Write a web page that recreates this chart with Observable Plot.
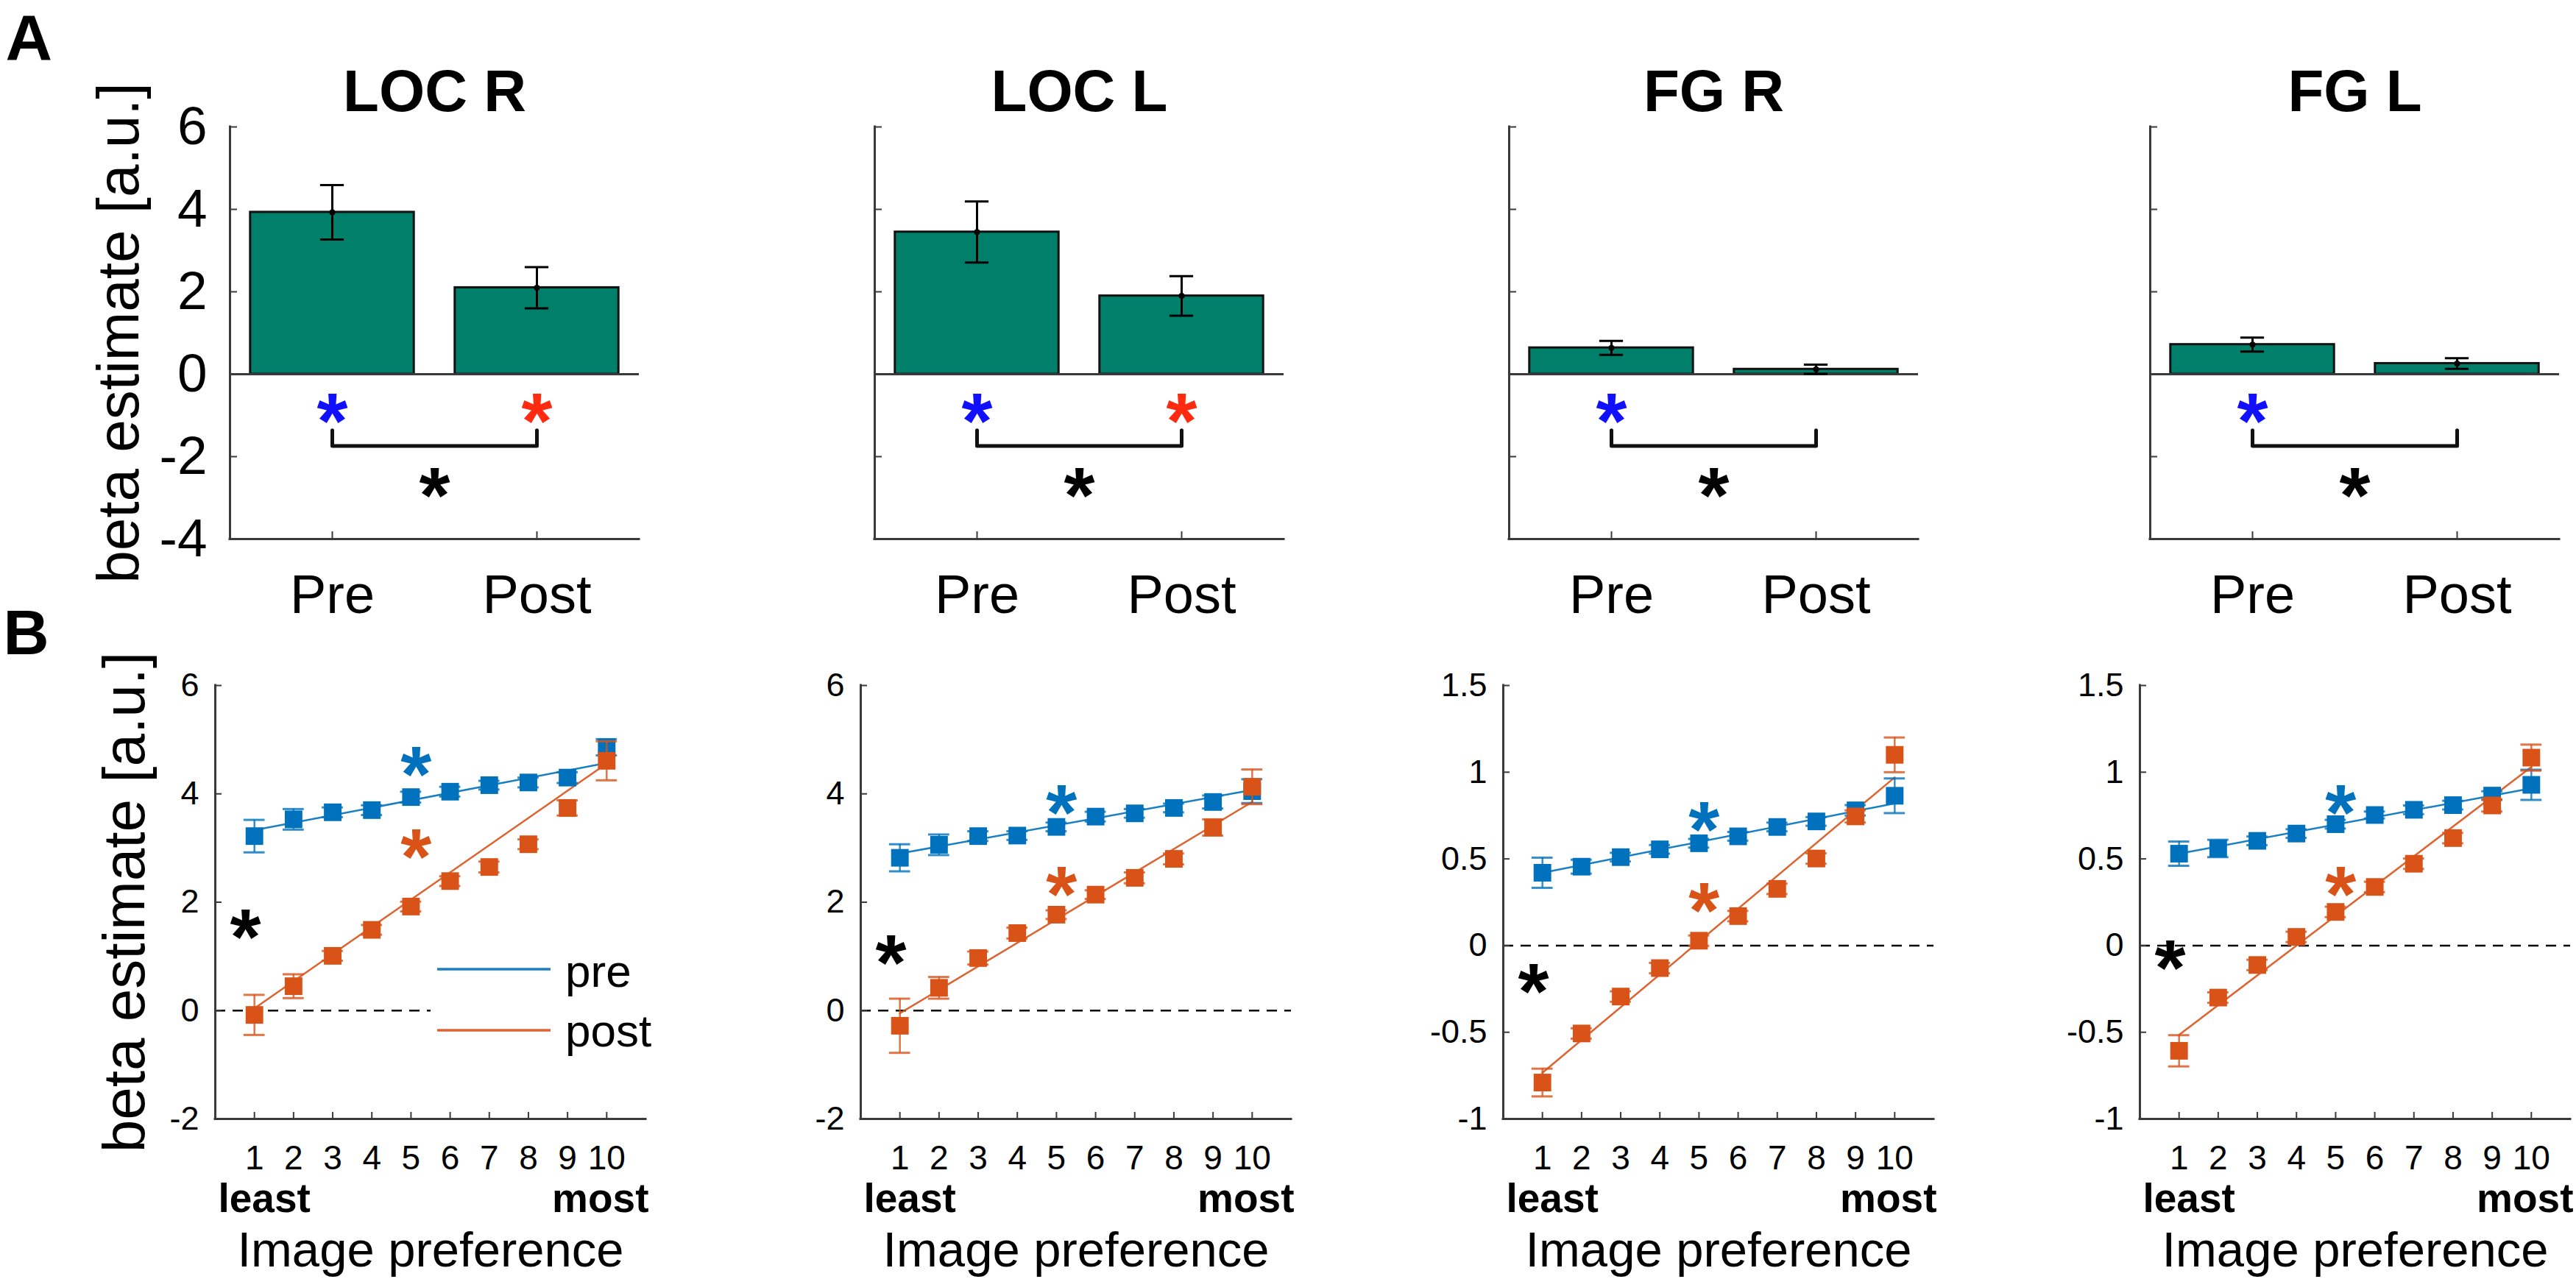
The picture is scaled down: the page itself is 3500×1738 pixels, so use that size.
<!DOCTYPE html>
<html><head><meta charset="utf-8">
<script src="https://cdn.jsdelivr.net/npm/d3@7"></script>
<script src="https://cdn.jsdelivr.net/npm/@observablehq/plot@0.6"></script>
<style>
html,body{margin:0;padding:0;background:#fff;}
#fig{position:relative;width:3500px;height:1738px;overflow:hidden;background:#fff;font-family:"Liberation Sans",Arial,Helvetica,sans-serif;}
.cell{position:absolute;}
.cell svg{display:block;overflow:visible;}
</style></head><body><div id="fig"></div>
<script>
// ---------------- data ----------------
const regions = ["LOC R", "LOC L", "FG R", "FG L"];
const conditions = ["Pre", "Post"];
// panel A: mean beta estimate (bars) and SE
const barPre    = [3.93, 3.45, 0.64, 0.72];
const barPreSE  = [0.66, 0.74, 0.17, 0.17];
const barPost   = [2.10, 1.90, 0.12, 0.26];
const barPostSE = [0.50, 0.48, 0.11, 0.13];
const preSig  = [true, true, true, true];
const postSig = [true, true, false, false];
const withinStarY = -0.68;
const bracketY = [-1.36, -1.74];
const betweenStarY = -2.48;
const topYTicks = [-4, -2, 0, 2, 4, 6];

// panel B: beta per image preference level
const prefLevels = [1, 2, 3, 4, 5, 6, 7, 8, 9, 10];
const preMean = [
  [3.22, 3.53, 3.66, 3.70, 3.94, 4.04, 4.16, 4.21, 4.30, 4.86],
  [2.82, 3.06, 3.22, 3.23, 3.39, 3.58, 3.64, 3.74, 3.85, 4.05],
  [0.42, 0.455, 0.51, 0.555, 0.59, 0.63, 0.684, 0.716, 0.78, 0.864],
  [0.53, 0.56, 0.604, 0.646, 0.70, 0.753, 0.783, 0.81, 0.865, 0.927]
];
const preSE = [
  [0.30, 0.19, 0.09, 0.09, 0.10, 0.09, 0.08, 0.09, 0.10, 0.15],
  [0.25, 0.19, 0.09, 0.08, 0.08, 0.09, 0.08, 0.08, 0.12, 0.22],
  [0.087, 0.04, 0.025, 0.025, 0.025, 0.025, 0.025, 0.025, 0.03, 0.10],
  [0.07, 0.05, 0.025, 0.025, 0.025, 0.02, 0.025, 0.025, 0.025, 0.087]
];
const postMean = [
  [-0.08, 0.45, 1.01, 1.49, 1.92, 2.39, 2.65, 3.07, 3.74, 4.61],
  [-0.28, 0.42, 0.97, 1.43, 1.77, 2.14, 2.45, 2.80, 3.38, 4.13],
  [-0.79, -0.507, -0.294, -0.13, 0.028, 0.17, 0.327, 0.502, 0.745, 1.10],
  [-0.607, -0.30, -0.112, 0.05, 0.194, 0.338, 0.472, 0.62, 0.808, 1.084]
];
const postSE = [
  [0.37, 0.22, 0.09, 0.09, 0.09, 0.09, 0.10, 0.09, 0.14, 0.36],
  [0.50, 0.20, 0.12, 0.10, 0.08, 0.08, 0.10, 0.10, 0.15, 0.32],
  [0.08, 0.03, 0.03, 0.03, 0.03, 0.03, 0.03, 0.03, 0.035, 0.10],
  [0.09, 0.03, 0.03, 0.03, 0.03, 0.03, 0.03, 0.03, 0.035, 0.075]
];
// fitted lines (value at level 1 and at level 10)
const fitPre  = [[3.33, 4.57], [2.90, 4.07], [0.42, 0.82], [0.53, 0.907]];
const fitPost = [[0.04, 4.56], [-0.05, 3.85], [-0.734, 0.97], [-0.515, 1.03]];
const fitLevels = [1, 10];
const bottomYDomain = [[-2, 6], [-2, 6], [-1, 1.5], [-1, 1.5]];
const bottomYTicks = [[-2, 0, 2, 4, 6], [-2, 0, 2, 4, 6], [-1, -0.5, 0, 0.5, 1, 1.5], [-1, -0.5, 0, 0.5, 1, 1.5]];
const groupStarX = 0.77, slopeStarX = 5.13;
const groupStarY = [1.71, 1.23, -0.156, -0.018];
const preSlopeStarY = [4.71, 4.01, 0.78, 0.877];
const postSlopeStarY = [3.19, 2.50, 0.31, 0.405];
const seriesNames = ["pre", "post"];

// ---------------- styles / layout ----------------
const FONT = '"Liberation Sans", Arial, Helvetica, sans-serif';
const AX = "#3a3a3a";
const barFill = "#00806a";
const cPre = "#0072BD", cPost = "#D95319";
const sigBlue = "#1010ff", sigRed = "#ff2a10";
const colLeft = [0, 1000, 1880, 2750];
const colRight = [1000, 1880, 2750, 3500];
const topAxisLeft = [312, 1188, 2050, 2921], topAxisW = 556;
const topFrameTop = 172, topFrameBottom = 732, topH = 852;
const botAxisLeft = [292, 1169, 2042, 2907], botAxisW = 585;
const botFrameTop = 931, botFrameBottom = 1520, botH = 886;
const barHalf = 0.4, capTop = 0.058, capBot = 0.27;
const starFS = 108, starDy = 28;

const fig = document.getElementById("fig");
function place(svg, left, top) {
  const d = document.createElement("div");
  d.className = "cell";
  d.style.left = left + "px"; d.style.top = top + "px";
  d.appendChild(svg);
  fig.appendChild(d);
}

function topPanel(i) {
  const width = colRight[i] - colLeft[i];
  const mL = topAxisLeft[i] - colLeft[i];
  const mR = width - mL - topAxisW;
  const bars = conditions.map((c, j) => ({
    pos: j + 1,
    mean: [barPre, barPost][j][i],
    se: [barPreSE, barPostSE][j][i]
  }));
  const blueStars = preSig[i] ? [{pos: 1, y: withinStarY}] : [];
  const redStars = postSig[i] ? [{pos: 2, y: withinStarY}] : [];
  const bracket = [
    {pos: 1, y: bracketY[0]}, {pos: 1, y: bracketY[1]},
    {pos: 2, y: bracketY[1]}, {pos: 2, y: bracketY[0]}
  ];
  const marks = [
    Plot.rect(bars, {x1: d => d.pos - barHalf, x2: d => d.pos + barHalf, y1: 0, y2: "mean",
      fill: barFill, stroke: "#111", strokeWidth: 3}),
    Plot.ruleY([0], {stroke: AX, strokeWidth: 3}),
    Plot.ruleX(bars, {x: "pos", y1: d => d.mean - d.se, y2: d => d.mean + d.se, stroke: "#000", strokeWidth: 3}),
    Plot.ruleY(bars, {y: d => d.mean + d.se, x1: d => d.pos - capTop, x2: d => d.pos + capTop, stroke: "#000", strokeWidth: 3}),
    Plot.ruleY(bars, {y: d => d.mean - d.se, x1: d => d.pos - capTop, x2: d => d.pos + capTop, stroke: "#000", strokeWidth: 3}),
    Plot.dot(bars, {x: "pos", y: "mean", r: 4, fill: "#000"}),
    Plot.line(bracket, {x: "pos", y: "y", stroke: "#111", strokeWidth: 5}),
    Plot.text(blueStars, {x: "pos", y: "y", text: () => "*", fill: sigBlue, fontSize: starFS, fontWeight: "bold", dy: starDy}),
    Plot.text(redStars, {x: "pos", y: "y", text: () => "*", fill: sigRed, fontSize: starFS, fontWeight: "bold", dy: starDy}),
    Plot.text([betweenStarY], {y: d => d, text: () => "*", fill: "#000", fontSize: starFS, fontWeight: "bold", dy: starDy}),
    Plot.ruleX([0.5], {stroke: AX, strokeWidth: 3, strokeLinecap: "square"}),
    Plot.ruleY([topYTicks[0]], {stroke: AX, strokeWidth: 3, strokeLinecap: "square"}),
    Plot.axisX([1, 2], {tickSize: -10, tickPadding: 58, tickFormat: d => conditions[d - 1],
      fontSize: 74, stroke: AX, strokeWidth: 2, label: null}),
    Plot.axisY(topYTicks, {tickSize: -10, tickPadding: 41, tickFormat: i === 0 ? (d => String(d)) : (() => ""),
      fontSize: 73, stroke: AX, strokeWidth: 2, label: null}),
    Plot.text([regions[i]], {frameAnchor: "top", dy: -(topFrameTop - 150), lineAnchor: "bottom",
      fontSize: 80, fontWeight: "bold", fill: "#000"})
  ];
  if (i === 0) {
    marks.push(Plot.text(["beta estimate [a.u.]"], {frameAnchor: "left", rotate: -90, dx: -125,
      lineAnchor: "bottom", textAnchor: "middle", fontSize: 80, fill: "#000"}));
    marks.push(Plot.text(["A"], {frameAnchor: "top-left", dx: 7 - topAxisLeft[0], dy: 80 - topFrameTop,
      lineAnchor: "bottom", textAnchor: "start", fontSize: 88, fontWeight: "bold", fill: "#000"}));
  }
  const svg = Plot.plot({
    width, height: topH,
    marginLeft: mL, marginRight: mR, marginTop: topFrameTop, marginBottom: topH - topFrameBottom,
    style: {background: "transparent", fontFamily: FONT, color: "#000", overflow: "visible"},
    x: {domain: [0.5, 2.5], label: null},
    y: {domain: [topYTicks[0], topYTicks[topYTicks.length - 1]], label: null},
    marks
  });
  place(svg, colLeft[i], 0);
}

function bottomPanel(i) {
  const width = colRight[i] - colLeft[i];
  const mL = botAxisLeft[i] - colLeft[i];
  const mR = width - mL - botAxisW;
  const mT = botFrameTop - topH;
  const mB = 1738 - botFrameBottom;
  const pre = prefLevels.map((x, k) => ({x, mean: preMean[i][k], se: preSE[i][k]}));
  const post = prefLevels.map((x, k) => ({x, mean: postMean[i][k], se: postSE[i][k]}));
  const fp = fitLevels.map((x, k) => ({x, y: fitPre[i][k]}));
  const fq = fitLevels.map((x, k) => ({x, y: fitPost[i][k]}));
  const series = (rows, color) => [
    Plot.ruleX(rows, {x: "x", y1: d => d.mean - d.se, y2: d => d.mean + d.se, stroke: color, strokeWidth: 2.5, strokeOpacity: 0.8}),
    Plot.ruleY(rows, {y: d => d.mean + d.se, x1: d => d.x - capBot, x2: d => d.x + capBot, stroke: color, strokeWidth: 3, strokeOpacity: 0.8}),
    Plot.ruleY(rows, {y: d => d.mean - d.se, x1: d => d.x - capBot, x2: d => d.x + capBot, stroke: color, strokeWidth: 3, strokeOpacity: 0.8}),
    Plot.dot(rows, {x: "x", y: "mean", symbol: "square", r: 13.5, fill: color, stroke: "none"})
  ];
  const yd = bottomYDomain[i];
  const marks = [
    Plot.ruleY([0], {stroke: "#000", strokeWidth: 2.5, strokeDasharray: "14,10"}),
    Plot.line(fp, {x: "x", y: "y", stroke: cPre, strokeWidth: 2.5, strokeOpacity: 0.9}),
    Plot.line(fq, {x: "x", y: "y", stroke: cPost, strokeWidth: 2.5, strokeOpacity: 0.9}),
    ...series(pre, cPre),
    ...series(post, cPost),
    Plot.text([groupStarY[i]], {x: () => groupStarX, y: d => d, text: () => "*", fill: "#000", fontSize: starFS, fontWeight: "bold", dy: starDy}),
    Plot.text([preSlopeStarY[i]], {x: () => slopeStarX, y: d => d, text: () => "*", fill: cPre, fontSize: starFS, fontWeight: "bold", dy: starDy}),
    Plot.text([postSlopeStarY[i]], {x: () => slopeStarX, y: d => d, text: () => "*", fill: cPost, fontSize: starFS, fontWeight: "bold", dy: starDy}),
    Plot.ruleX([0], {stroke: AX, strokeWidth: 3, strokeLinecap: "square"}),
    Plot.ruleY([yd[0]], {stroke: AX, strokeWidth: 3, strokeLinecap: "square"}),
    Plot.axisX(prefLevels, {tickSize: -9, tickPadding: 45, tickFormat: d => String(d),
      fontSize: 46, stroke: AX, strokeWidth: 2, label: null}),
    Plot.axisY(bottomYTicks[i], {tickSize: -9, tickPadding: 31, tickFormat: d => String(d),
      fontSize: 45, stroke: AX, strokeWidth: 2, label: null}),
    Plot.text(["least"], {frameAnchor: "bottom-left", dx: 4, dy: 126, lineAnchor: "bottom", textAnchor: "start",
      fontSize: 55, fontWeight: "bold", fill: "#000"}),
    Plot.text(["most"], {frameAnchor: "bottom-right", dx: 4, dy: 126, lineAnchor: "bottom", textAnchor: "end",
      fontSize: 55, fontWeight: "bold", fill: "#000"}),
    Plot.text(["Image preference"], {frameAnchor: "bottom", dy: 200, lineAnchor: "bottom", textAnchor: "middle",
      fontSize: 67, fill: "#000"})
  ];
  if (i === 0) {
    marks.push(Plot.text(["beta estimate [a.u.]"], {frameAnchor: "left", rotate: -90, dx: -97,
      lineAnchor: "bottom", textAnchor: "middle", fontSize: 80, fill: "#000"}));
    marks.push(Plot.text(["B"], {frameAnchor: "top-left", dx: 4 - botAxisLeft[0], dy: 888 - botFrameTop,
      lineAnchor: "bottom", textAnchor: "start", fontSize: 86, fontWeight: "bold", fill: "#000"}));
  }
  const svg = Plot.plot({
    width, height: botH,
    marginLeft: mL, marginRight: mR, marginTop: mT, marginBottom: mB,
    style: {background: "transparent", fontFamily: FONT, color: "#000", overflow: "visible"},
    x: {domain: [0, 11], label: null},
    y: {domain: yd, label: null},
    marks
  });
  place(svg, colLeft[i], topH);
}

for (let i = 0; i < 4; i++) { topPanel(i); bottomPanel(i); }

// legend (panel B, LOC R) with white background, as in the original
const leg = document.createElement("div");
leg.style.cssText = "position:absolute;left:585px;top:1285px;width:305px;height:150px;background:#fff;";
const ns = "http://www.w3.org/2000/svg";
const ls = document.createElementNS(ns, "svg");
ls.setAttribute("width", 305); ls.setAttribute("height", 150);
[[cPre, 32, 56], [cPost, 115, 137]].forEach(([c, ly, ty], k) => {
  const l = document.createElementNS(ns, "line");
  l.setAttribute("x1", 9); l.setAttribute("x2", 163); l.setAttribute("y1", ly); l.setAttribute("y2", ly);
  l.setAttribute("stroke", c); l.setAttribute("stroke-width", 3.5); l.setAttribute("stroke-opacity", 0.9);
  ls.appendChild(l);
  const t = document.createElementNS(ns, "text");
  t.setAttribute("x", 183); t.setAttribute("y", ty);
  t.setAttribute("font-size", 62); t.setAttribute("font-family", FONT); t.setAttribute("fill", "#000");
  t.textContent = seriesNames[k];
  ls.appendChild(t);
});
leg.appendChild(ls);
fig.appendChild(leg);
</script></body></html>
